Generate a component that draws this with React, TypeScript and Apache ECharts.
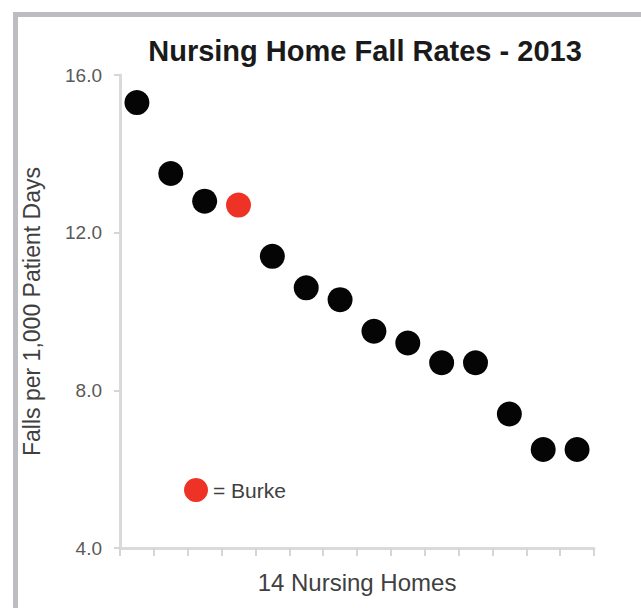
import React, { useEffect, useRef } from "react";
import * as echarts from "echarts";

const homes = [
  "Home 1", "Home 2", "Home 3", "Burke", "Home 5", "Home 6", "Home 7",
  "Home 8", "Home 9", "Home 10", "Home 11", "Home 12", "Home 13", "Home 14",
];
const fallRates = [15.3, 13.5, 12.8, 12.7, 11.4, 10.6, 10.3, 9.5, 9.2, 8.7, 8.7, 7.4, 6.5, 6.5];
const burkeName = "Burke";
const yMin = 4;
const yMax = 16;
const yInterval = 4;
const titleText = "Nursing Home Fall Rates - 2013";
const yAxisName = "Falls per 1,000 Patient Days";
const xAxisName = "14 Nursing Homes";
const legendLabel = "= Burke";

export default function App() {
  const ref = useRef<HTMLDivElement>(null);
  useEffect(() => {
    document.body.style.margin = "0";
    if (!ref.current) return;
    const chart = echarts.init(ref.current, null, { renderer: "svg" });
    const burkeIdx = homes.indexOf(burkeName);
    const others = fallRates.map((v, i) => (i === burkeIdx ? "-" : v));
    const burke = fallRates.map((v, i) => (i === burkeIdx ? v : "-"));
    const font = "'Liberation Sans', Arial, sans-serif";
    chart.setOption({
      animation: false,
      backgroundColor: "#ffffff",
      title: {
        text: titleText,
        left: 360,
        top: 31,
        textAlign: "center",
        textStyle: { fontFamily: font, fontSize: 29, fontWeight: "bold", color: "#1a1a1a" },
      },
      graphic: [
        {
          type: "rect",
          z: -10,
          shape: { x: 15.5, y: 14.5, width: 700, height: 700 },
          style: { fill: "none", stroke: "#bdbdc1", lineWidth: 5 },
        },
      ],
      legend: {
        data: [legendLabel],
        left: 179,
        top: 473,
        icon: "circle",
        itemWidth: 24,
        itemHeight: 24,
        selectedMode: false,
        textStyle: { fontFamily: font, fontSize: 21, color: "#404040" },
      },
      grid: { left: 120, right: 47, top: 75, bottom: 60 },
      xAxis: {
        type: "category",
        data: homes,
        boundaryGap: true,
        name: xAxisName,
        nameLocation: "middle",
        nameGap: 22,
        nameTextStyle: { fontFamily: font, fontSize: 24, color: "#404040" },
        axisLine: { lineStyle: { color: "#dadada", width: 3 } },
        axisTick: { show: true, interval: 0, length: 8, lineStyle: { color: "#d6d6d6", width: 2 } },
        axisLabel: { show: false, interval: 0 },
        splitLine: { show: false },
      },
      yAxis: {
        type: "value",
        min: yMin,
        max: yMax,
        interval: yInterval,
        name: yAxisName,
        nameLocation: "middle",
        nameGap: 77,
        nameTextStyle: { fontFamily: font, fontSize: 23, color: "#404040" },
        axisLine: { show: true, lineStyle: { color: "#dadada", width: 3 } },
        axisTick: { show: true, length: 6, lineStyle: { color: "#d6d6d6", width: 2 } },
        axisLabel: {
          margin: 18,
          fontFamily: font,
          fontSize: 19,
          color: "#595959",
          formatter: (v: number) => v.toFixed(1),
        },
        splitLine: { show: false },
      },
      series: [
        {
          name: "Other Homes",
          type: "scatter",
          data: others,
          symbol: "circle",
          symbolSize: 25,
          itemStyle: { color: "#050505", opacity: 1 },
        },
        {
          name: legendLabel,
          type: "scatter",
          data: burke,
          symbol: "circle",
          symbolSize: 25,
          itemStyle: { color: "#ef3226", opacity: 1 },
        },
      ],
    });
    return () => chart.dispose();
  }, []);
  return (
    <div
      ref={ref}
      style={{ position: "absolute", left: 0, top: 0, width: 641, height: 608 }}
    />
  );
}
